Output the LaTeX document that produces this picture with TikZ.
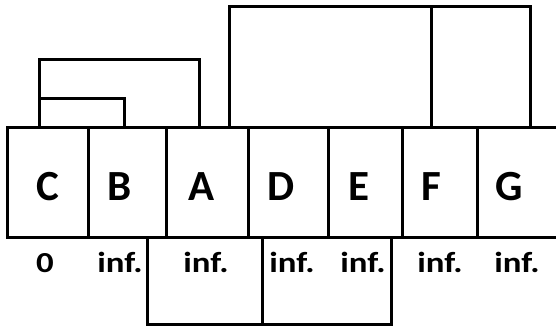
\documentclass[tikz,border=0pt]{standalone}
\usepackage{fontspec}
\setmainfont{Carlito}
\usetikzlibrary{calc}
\begin{document}
\begin{tikzpicture}[x=1pt,y=-1pt,
  cell/.style={draw, line width=3pt, minimum height=110pt, inner sep=0pt, outer sep=0pt},
  wire/.style={draw, line width=3pt},
  letter/.style={font=\bfseries\fontsize{43}{43}\selectfont, anchor=base, inner sep=0pt},
  val/.style={font=\bfseries\fontsize{29}{29}\selectfont, anchor=base, inner sep=0pt, xscale=1.2}]
\useasboundingbox (0,0) rectangle (556,329);
\fill[white] (0,0) rectangle (556,329);
\clip (0,0) rectangle (556,329);
% cells
\node[cell, minimum width=81pt] (C) at (47.5,182) {};
\node[cell, minimum width=78pt] (B) at (127,182) {};
\node[cell, minimum width=82pt] (A) at (207,182) {};
\node[cell, minimum width=80pt] (D) at (288,182) {};
\node[cell, minimum width=74pt] (E) at (365,182) {};
\node[cell, minimum width=75pt] (F) at (439.5,182) {};
\node[cell, minimum width=93pt] (G) at (523.5,182) {};
% letters
\node[letter] (lC) at (48,200) {C};
\node[letter] (lB) at (120,200) {B};
\node[letter] (lA) at (202,200) {A};
\node[letter] (lD) at (281,200) {D};
\node[letter] (lE) at (359,200) {E};
\node[letter] (lF) at (431,200) {F};
\node[letter] (lG) at (509,200) {G};
% values
\node[val] (vC) at (45,272) {0};
\node[val] (vB) at (120,272) {inf.};
\node[val] (vA) at (206,272) {inf.};
\node[val] (vD) at (292,272) {inf.};
\node[val] (vE) at (363,272) {inf.};
\node[val] (vF) at (440,272) {inf.};
\node[val] (vG) at (517,272) {inf.};
% top connectors
\draw[wire] ($(C.north west)+(32,0)$) -- ++(0,-29) -| ($(B.north)+(-3,0)$);
\draw[wire] ($(C.north west)+(32,0)$) -- ++(0,-68) -| ($(A.north west)+(33,0)$);
\draw[wire] ($(D.north west)+(-19,0)$) -- ++(0,-120) -| ($(G.north west)+(53,0)$);
\draw[wire] ($(F.north west)+(29,0)$) -- ++(0,-120);
% bottom connectors
\draw[wire] ($(A.south west)+(-19,0)$) -- ++(0,87) -| ($(E.south east)+(-11,0)$);
\draw[wire] ($(D.south west)+(14,0)$) -- ++(0,87);
\end{tikzpicture}
\end{document}
